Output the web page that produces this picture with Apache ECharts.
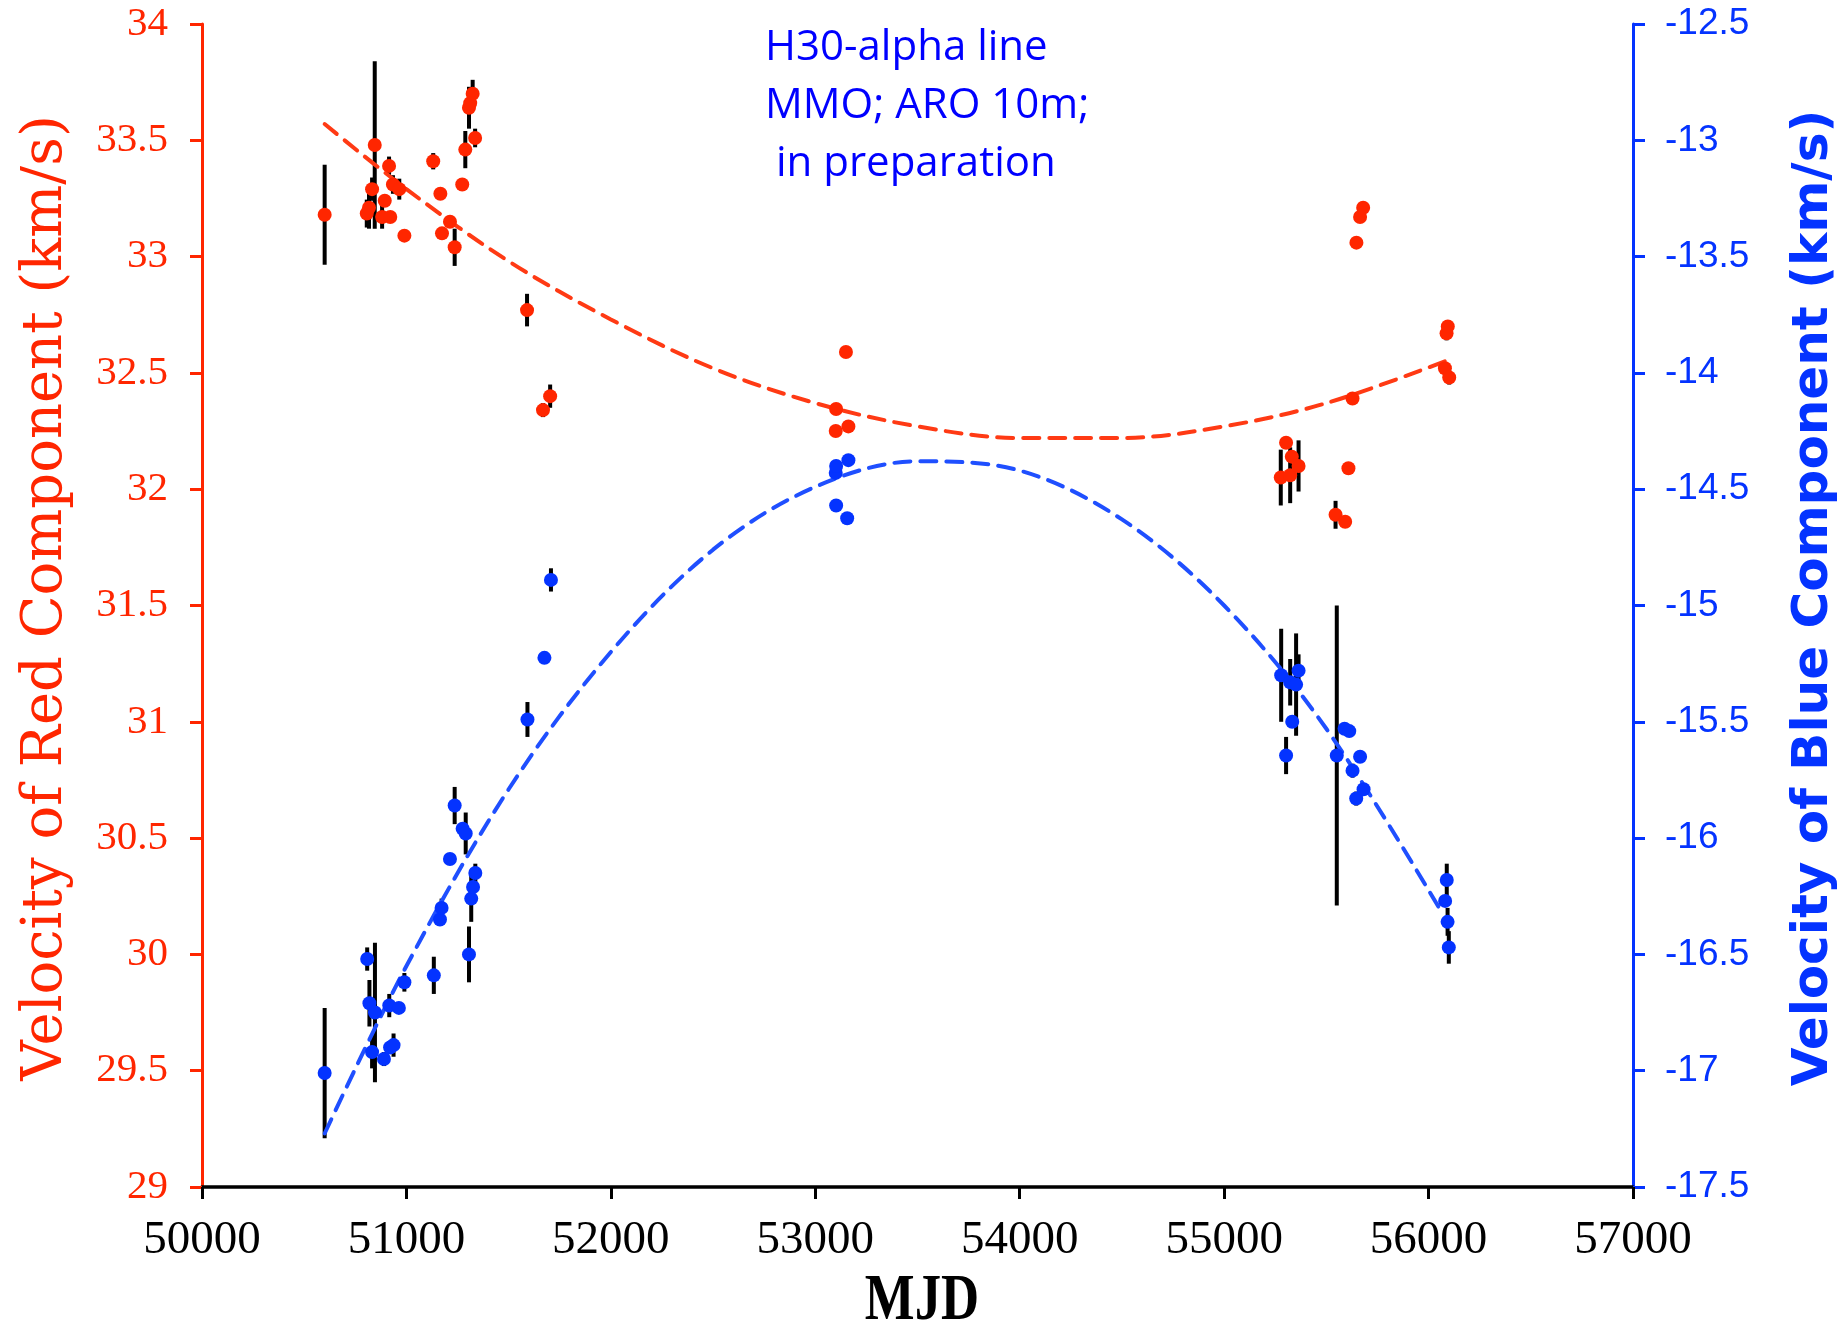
<!DOCTYPE html>
<html>
<head>
<meta charset="utf-8">
<title>H30-alpha line velocities</title>
<script src="https://cdn.jsdelivr.net/npm/echarts@6/dist/echarts.min.js"></script>
<style>
  html, body { margin: 0; padding: 0; background: #ffffff; }
  #chart { width: 1847px; height: 1334px; }
</style>
</head>
<body>
<div id="chart"></div>
<script>
// Red component: [MJD, velocity (km/s), error]
const redPoints = [
  [50600, 33.18, 0.215], [50806, 33.185, 0.06], [50817, 33.21, 0.09], [50832, 33.29, 0.05],
  [50845, 33.48, 0.36], [50881, 33.17, 0.05], [50894, 33.24, 0], [50915, 33.39, 0.04],
  [50921, 33.17, 0], [50934, 33.31, 0.04], [50965, 33.29, 0.045], [50990, 33.09, 0],
  [51131, 33.41, 0.035], [51166, 33.27, 0], [51174, 33.10, 0], [51213, 33.15, 0],
  [51236, 33.04, 0.08], [51273, 33.31, 0], [51288, 33.46, 0.08], [51306, 33.64, 0.09],
  [51312, 33.66, 0], [51324, 33.70, 0.06], [51336, 33.51, 0.04], [51590, 32.77, 0.07],
  [51668, 32.34, 0.03], [51703, 32.40, 0.05], [53100, 32.25, 0], [53102, 32.345, 0],
  [53150, 32.59, 0], [53162, 32.27, 0], [55277, 32.05, 0.12], [55303, 32.20, 0],
  [55323, 32.06, 0.12], [55331, 32.14, 0], [55364, 32.10, 0.11], [55545, 31.89, 0.06],
  [55592, 31.86, 0], [55608, 32.09, 0], [55628, 32.39, 0], [55647, 33.06, 0],
  [55665, 33.17, 0], [55680, 33.21, 0], [56080, 32.52, 0], [56088, 32.67, 0.03],
  [56094, 32.70, 0], [56101, 32.48, 0.03]
];

// Blue component: [MJD, velocity (km/s), error]
const bluePoints = [
  [50600, -17.01, 0.28], [50808, -16.52, 0.05], [50819, -16.71, 0.1], [50832, -16.92, 0.07],
  [50846, -16.75, 0.3], [50890, -16.95, 0.03], [50916, -16.72, 0.05], [50920, -16.90, 0],
  [50937, -16.89, 0.05], [50963, -16.73, 0], [50990, -16.62, 0.04], [51134, -16.59, 0.08],
  [51164, -16.35, 0], [51172, -16.30, 0.04], [51213, -16.09, 0], [51236, -15.86, 0.08],
  [51275, -15.96, 0], [51290, -15.98, 0.09], [51306, -16.50, 0.12], [51317, -16.26, 0.1],
  [51326, -16.21, 0], [51337, -16.15, 0.04], [51592, -15.49, 0.075], [51675, -15.225, 0],
  [51707, -14.89, 0.05], [53100, -14.43, 0], [53102, -14.40, 0], [53102, -14.57, 0],
  [53156, -14.625, 0], [53162, -14.375, 0], [55279, -15.30, 0.2], [55303, -15.645, 0.08],
  [55323, -15.33, 0.1], [55333, -15.50, 0], [55352, -15.34, 0.22], [55364, -15.28, 0.07],
  [55551, -15.645, 0.645], [55589, -15.53, 0], [55612, -15.54, 0], [55628, -15.71, 0.03],
  [55646, -15.83, 0.03], [55665, -15.65, 0], [55682, -15.79, 0], [56081, -16.27, 0],
  [56089, -16.18, 0.07], [56093, -16.36, 0.06], [56099, -16.47, 0.07]
];

// Fitted trends: [MJD, velocity]
const redFit = [
  [50600, 33.57], [51000, 33.29], [51500, 32.98], [52000, 32.73], [52500, 32.52],
  [53000, 32.37], [53500, 32.27], [54000, 32.22], [54500, 32.22], [55000, 32.27],
  [55500, 32.37], [56080, 32.55]
];
const blueFit = [
  [50600, -17.27], [51000, -16.55], [51500, -15.79], [52000, -15.20], [52500, -14.76],
  [53000, -14.49], [53500, -14.38], [54000, -14.42], [54500, -14.63], [55000, -15.00],
  [55500, -15.53], [56065, -16.32]
];

// Axis ranges
const mjdRange = [50000, 57000, 1000];
const redRange = [29, 34, 0.5];
const blueRange = [-17.5, -12.5, 0.5];

const noteLines = ['H30-alpha line', 'MMO; ARO 10m;', ' in preparation'];

const RED = '#ff2600';
const BLUE = '#0433ff';

function errorBars(points) {
  return points.filter(p => p[2] > 0).map(p => [p[0], p[1] - p[2], p[1] + p[2]]);
}

function renderBar(params, api) {
  const a = api.coord([api.value(0), api.value(1)]);
  const b = api.coord([api.value(0), api.value(2)]);
  return {
    type: 'line',
    shape: { x1: a[0], y1: a[1], x2: b[0], y2: b[1] },
    style: { stroke: '#000000', lineWidth: 4 }
  };
}

const chart = echarts.init(document.getElementById('chart'), null, { renderer: 'canvas' });

const option = {
  backgroundColor: '#ffffff',
  animation: false,
  grid: { left: 202, right: 214, top: 24, bottom: 147 },
  xAxis: {
    type: 'value',
    min: mjdRange[0], max: mjdRange[1], interval: mjdRange[2],
    axisLine: { onZero: false, lineStyle: { color: '#000000', width: 3.5 } },
    axisTick: { inside: false, length: 12, lineStyle: { color: '#000000', width: 3 } },
    axisLabel: {
      color: '#000000', fontFamily: 'Liberation Serif', fontSize: 47, margin: 30,
      formatter: v => String(v)
    },
    splitLine: { show: false }
  },
  yAxis: [
    {
      type: 'value', position: 'left',
      min: redRange[0], max: redRange[1], interval: redRange[2],
      axisLine: { show: true, onZero: false, lineStyle: { color: RED, width: 3 } },
      axisTick: { show: true, inside: false, length: 12, lineStyle: { color: RED, width: 3 } },
      axisLabel: { color: RED, fontFamily: 'Liberation Serif', fontSize: 41, margin: 34 },
      splitLine: { show: false }
    },
    {
      type: 'value', position: 'right',
      min: blueRange[0], max: blueRange[1], interval: blueRange[2],
      axisLine: { show: true, onZero: false, lineStyle: { color: BLUE, width: 3 } },
      axisTick: { show: true, inside: false, length: 12, lineStyle: { color: BLUE, width: 3 } },
      axisLabel: { color: BLUE, fontFamily: 'Liberation Sans', fontSize: 37, margin: 32 },
      splitLine: { show: false }
    }
  ],
  series: [
    {
      type: 'custom', name: 'red-err', xAxisIndex: 0, yAxisIndex: 0,
      renderItem: renderBar, encode: { x: 0, y: [1, 2] },
      data: errorBars(redPoints), z: 1, silent: true
    },
    {
      type: 'custom', name: 'blue-err', xAxisIndex: 0, yAxisIndex: 1,
      renderItem: renderBar, encode: { x: 0, y: [1, 2] },
      data: errorBars(bluePoints), z: 1, silent: true
    },
    {
      type: 'line', name: 'red-fit', yAxisIndex: 0, data: redFit,
      smooth: 0.34, showSymbol: false, symbol: 'none', z: 2,
      lineStyle: { color: '#ff3a14', width: 4, type: [16, 10], cap: 'round' }
    },
    {
      type: 'line', name: 'blue-fit', yAxisIndex: 1, data: blueFit,
      smooth: 0.34, showSymbol: false, symbol: 'none', z: 2,
      lineStyle: { color: '#1f4fff', width: 4, type: [16, 10], cap: 'round' }
    },
    {
      type: 'scatter', name: 'red', yAxisIndex: 0,
      data: redPoints.map(p => [p[0], p[1]]),
      symbol: 'circle', symbolSize: 14, z: 3,
      itemStyle: { color: RED, opacity: 1 }
    },
    {
      type: 'scatter', name: 'blue', yAxisIndex: 1,
      data: bluePoints.map(p => [p[0], p[1]]),
      symbol: 'circle', symbolSize: 14, z: 3,
      itemStyle: { color: BLUE, opacity: 1 }
    }
  ],
  graphic: [
    {
      type: 'text', x: 46, y: 598, rotation: Math.PI / 2,
      style: {
        text: 'Velocity of Red Component (km/s)', fill: RED,
        font: '56px "DejaVu Serif"', align: 'center', verticalAlign: 'middle'
      }
    },
    {
      type: 'text', x: 1814, y: 598, rotation: Math.PI / 2,
      style: {
        text: 'Velocity of Blue Component (km/s)', fill: BLUE,
        font: 'bold 50px "DejaVu Sans"', align: 'center', verticalAlign: 'middle'
      }
    },
    {
      type: 'text', x: 922, y: 1302, scaleX: 0.8,
      style: {
        text: 'MJD', fill: '#000000',
        font: 'bold 66px "Liberation Serif"', align: 'center', verticalAlign: 'middle'
      }
    }
  ].concat(noteLines.map((t, i) => ({
    type: 'text', x: 765, y: 48 + i * 58,
    style: {
      text: t, fill: '#0000ff', font: '42px "Open Sans"',
      align: 'left', verticalAlign: 'middle'
    }
  })))
};

chart.setOption(option);
</script>
</body>
</html>
